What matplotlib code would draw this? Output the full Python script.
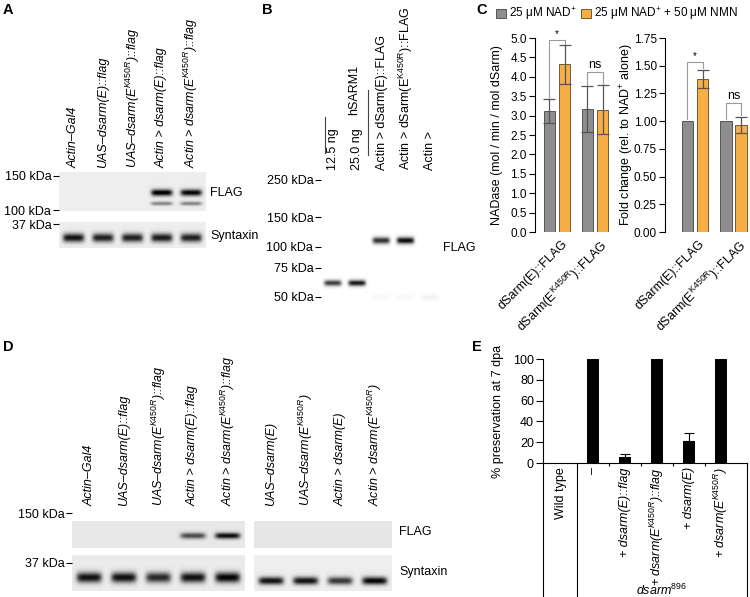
import numpy as np
import matplotlib
matplotlib.use('Agg')
import matplotlib.pyplot as plt
from matplotlib.lines import Line2D
from matplotlib.patches import Patch
from matplotlib.ticker import NullLocator, NullFormatter
from matplotlib.transforms import ScaledTranslation

plt.rcParams['font.family'] = ['Liberation Sans', 'DejaVu Sans']
plt.rcParams['font.size'] = 9
plt.rcParams['mathtext.fontset'] = 'custom'
plt.rcParams['mathtext.rm'] = 'Liberation Sans'
plt.rcParams['mathtext.it'] = 'Liberation Sans:italic'
plt.rcParams['mathtext.bf'] = 'Liberation Sans:bold'
plt.rcParams['axes.linewidth'] = 0.8

W, H = 750, 597

# ---------------- data ----------------
# A: western blot, band strength per lane
a_lanes = ['Actin–Gal4', 'UAS–dsarm(E)::flag', r'UAS–dsarm(E$^{\mathit{K450R}}$)::flag',
           'Actin > dsarm(E)::flag', r'Actin > dsarm(E$^{\mathit{K450R}}$)::flag']
a_flag = [0, 0, 0, 0.95, 0.9]          # ~124 kDa
a_flag_low = [0, 0, 0, 0.4, 0.4]       # ~110 kDa
a_syntaxin = [0.85, 0.8, 0.8, 0.82, 0.8]

# B
b_lanes = ['12.5 ng', '25.0 ng', 'Actin > dSarm(E)::FLAG',
           r'Actin > dSarm(E$^{\mathrm{K450R}}$)::FLAG', 'Actin >']
b_hsarm = [0.75, 0.9, 0, 0, 0]          # ~61 kDa
b_dsarm = [0, 0, 0.8, 0.95, 0]          # ~110 kDa
b_faint = [0, 0, 0.025, 0.025, 0.05]    # ~50 kDa
b_markers = [250, 150, 100, 75, 50]

# C
c_groups = ['dSarm(E)::FLAG', r'dSarm(E$^{\mathrm{K450R}}$)::FLAG']
c_nad = [3.12, 3.18]
c_nad_err = [0.30, 0.59]
c_nmn = [4.32, 3.15]
c_nmn_err = [0.50, 0.63]
c_fold_nad = [1.0, 1.0]
c_fold_nmn = [1.38, 0.965]
c_fold_nmn_err = [0.08, 0.073]
c_sig = ['*', 'ns']

# D
d_lanes_left = ['Actin–Gal4', 'UAS–dsarm(E)::flag', r'UAS–dsarm(E$^{\mathit{K450R}}$)::flag',
                'Actin > dsarm(E)::flag', r'Actin > dsarm(E$^{\mathit{K450R}}$)::flag']
d_lanes_right = ['UAS–dsarm(E)', r'UAS–dsarm(E$^{\mathit{K450R}}$)',
                 'Actin > dsarm(E)', r'Actin > dsarm(E$^{\mathit{K450R}}$)']
d_flag_left = [0, 0, 0, 0.6, 0.85]
d_flag_right = [0, 0, 0, 0]
d_syn_left = [0.85, 0.85, 0.75, 0.85, 0.9]
d_syn_right = [0.85, 0.85, 0.7, 0.9]

# E
e_cats = ['Wild type', '–', '+ dsarm(E)::flag', r'+ dsarm(E$^{\mathit{K450R}}$)::flag',
          '+ dsarm(E)', r'+ dsarm(E$^{\mathit{K450R}}$)']
e_vals = [0, 100, 5.5, 100, 21, 100]
e_err = [0, 0, 3, 0, 7.5, 0]

grey = '#8e8e8e'
orange = '#f6ae45'

fig = plt.figure(figsize=(7.5, 5.97), dpi=100)


def px_axes(x0, y0, x1, y1):
    return fig.add_axes([x0 / W, 1 - y1 / H, (x1 - x0) / W, (y1 - y0) / H])


def ftext(x, y, s, **kw):
    fig.text(x / W, 1 - y / H, s, **kw)


def fline(xs, ys, **kw):
    fig.add_artist(Line2D([x / W for x in xs], [1 - y / H for y in ys], **kw))


def blot(ax, n, bands, ylim, bg, img=None):
    lo, hi = img if img else ylim
    x = np.linspace(-0.5, n - 0.5, 300)
    ly = np.linspace(np.log(lo), np.log(hi), 200)
    X, LY = np.meshgrid(x, ly)
    z = np.full(X.shape, bg)
    for strength, kda, sig in bands:
        for lane, s in enumerate(strength):
            if s:
                z += s * np.exp(-((X - lane) / 0.36) ** 6) * np.exp(-((LY - np.log(kda)) / sig) ** 2)
    ax.pcolormesh(x, np.exp(ly), np.clip(z, 0, 1), cmap='gray_r', vmin=0, vmax=1, shading='gouraud')
    ax.set_yscale('log')
    ax.set_ylim(*ylim)
    ax.set_xlim(-0.5, n - 0.5)
    for sp in ax.spines.values():
        sp.set_visible(False)
    ax.yaxis.set_minor_locator(NullLocator())
    ax.yaxis.set_minor_formatter(NullFormatter())
    ax.set_xticks([])
    ax.set_yticks([])
    ax.tick_params(axis='y', length=4, width=0.8, pad=1.5)


def markers(ax, kdas):
    ax.set_yticks(kdas, [f'{k} kDa' for k in kdas])
    ax.yaxis.set_minor_locator(NullLocator())


def lane_labels(ax, labels, italic, pad):
    ax.set_xticks(range(len(labels)))
    ax.set_xticklabels(labels, rotation=90, style='italic' if italic else 'normal')
    ax.tick_params(axis='x', top=True, bottom=False, labeltop=True, labelbottom=False,
                   length=0, pad=pad)


# ---------------- A ----------------
ax = px_axes(59, 172, 206, 211)
blot(ax, 5, [(a_flag, 124, 0.038), (a_flag_low, 109, 0.022)], (98.9, 157), 0.07)
markers(ax, [150, 100])
lane_labels(ax, a_lanes, True, 3)
ax = px_axes(59, 222, 206, 248)
blot(ax, 5, [(a_syntaxin, 31.7, 0.05)], (27.8, 37.9), 0.07)
markers(ax, [37])
ftext(210, 193, 'FLAG', va='center')
ftext(210, 236, 'Syntaxin', va='center')

# ---------------- B ----------------
ax = px_axes(321, 172, 442, 310)
blot(ax, 5, [(b_hsarm, 61, 0.04), (b_dsarm, 109.5, 0.045), (b_faint, 50, 0.04)], (41.8, 279), 0.0)
markers(ax, b_markers)
lane_labels(ax, b_lanes, False, 1.5)
ftext(443, 248, 'FLAG', va='center')
ftext(354, 115, 'hSARM1', rotation=90, ha='center', va='bottom')
fline([325, 325], [117, 153], color='#444444', lw=0.8)
fline([368, 368], [90, 155], color='#444444', lw=0.8)

# ---------------- C ----------------
bw, off = 0.3, 0.2
xg = np.arange(len(c_groups))
err_kw = dict(ecolor='#555555', elinewidth=0.9, capsize=4, capthick=0.9)


def style_c(ax):
    for s in ['top', 'right', 'bottom']:
        ax.spines[s].set_visible(False)
    ax.tick_params(axis='y', length=4.3, width=0.8, pad=1.5, labelsize=8.5)
    ax.tick_params(axis='x', length=0, pad=4)
    ax.set_xticks(xg)
    ax.set_xticklabels(c_groups, rotation=45, ha='right', rotation_mode='anchor')
    for lbl in ax.get_xticklabels():
        lbl.set_transform(lbl.get_transform() + ScaledTranslation(4 / 100, 0, fig.dpi_scale_trans))


def brackets(ax, tops, left_ends, right_ends, pad, txt_pad):
    for i, s in enumerate(c_sig):
        xl, xr = xg[i] - off, xg[i] + off
        ax.plot([xl, xl, xr, xr], [left_ends[i] + pad, tops[i], tops[i], right_ends[i] + pad],
                color='#9a9a9a', lw=0.8, clip_on=False)
        ax.text(xg[i], tops[i] + txt_pad, s, ha='center', va='bottom',
                fontsize=7 if s == '*' else 9)


ax = px_axes(535, 38, 616, 232)
ax.bar(xg - off, c_nad, bw, color=grey, edgecolor='#555555', lw=0.7)
ax.bar(xg + off, c_nmn, bw, color=orange, edgecolor='#6e5a3a', lw=0.7)
ax.errorbar(xg - off, c_nad, yerr=c_nad_err, fmt='none', **err_kw)
ax.errorbar(xg + off, c_nmn, yerr=c_nmn_err, fmt='none', **err_kw)
ax.set_ylim(0, 5)
ax.set_xlim(-0.58, 1.55)
ax.set_yticks(np.arange(0, 5.01, 0.5))
ax.set_yticklabels([f'{v:.1f}' for v in np.arange(0, 5.01, 0.5)])
style_c(ax)
brackets(ax, [4.95, 4.12], np.add(c_nad, c_nad_err), np.add(c_nmn, c_nmn_err), 0.03, 0.02)
ax.set_ylabel('NADase (mol / min / mol dSarm)')
ax.yaxis.set_label_coords(-0.39, 0.5)

ax = px_axes(665, 38, 750, 232)
ax.bar(xg - off, c_fold_nad, bw, color=grey, edgecolor='#555555', lw=0.7)
ax.bar(xg + off, c_fold_nmn, bw, color=orange, edgecolor='#6e5a3a', lw=0.7)
ax.errorbar(xg + off, c_fold_nmn, yerr=c_fold_nmn_err, fmt='none', **err_kw)
ax.set_ylim(0, 1.75)
ax.set_xlim(-0.78, 1.43)
ax.set_yticks(np.arange(0, 1.76, 0.25))
ax.set_yticklabels([f'{v:.2f}' for v in np.arange(0, 1.76, 0.25)])
style_c(ax)
brackets(ax, [1.53, 1.163], c_fold_nad, np.add(c_fold_nmn, c_fold_nmn_err), 0.02, 0.01)
ax.set_ylabel('Fold change (rel. to NAD$^{+}$ alone)')
ax.yaxis.set_label_coords(-0.345, 0.5)

fig.legend([Patch(facecolor=grey, edgecolor='#555555', lw=0.7),
            Patch(facecolor=orange, edgecolor='#6e5a3a', lw=0.7)],
           ['25 μM NAD$^{+}$', '25 μM NAD$^{+}$ + 50 μM NMN'],
           loc='center left', bbox_to_anchor=(496 / W, 1 - 14 / H), ncol=2, frameon=False,
           handlelength=0.85, handleheight=0.85, handletextpad=0.25, columnspacing=0.4,
           borderpad=0, borderaxespad=0, prop={'size': 8.5})

# ---------------- D ----------------
d_flag_lim, d_flag_img = (98.9, 155.5), (98.9, 134.8)
d_syn_lim = (26.5, 40.7)
ax = px_axes(72, 510, 245, 548)
blot(ax, 5, [(d_flag_left, 115.5, 0.035)], d_flag_lim, 0.09, d_flag_img)
markers(ax, [150])
lane_labels(ax, d_lanes_left, True, 3)
ax = px_axes(72, 555, 245, 591)
blot(ax, 5, [(d_syn_left, 31.4, 0.06)], d_syn_lim, 0.08)
markers(ax, [37])
ax = px_axes(254, 510, 392, 548)
blot(ax, 4, [(d_flag_right, 115.5, 0.035)], d_flag_lim, 0.1, d_flag_img)
lane_labels(ax, d_lanes_right, True, 3)
ax = px_axes(254, 555, 392, 591)
blot(ax, 4, [(d_syn_right, 30.2, 0.045)], d_syn_lim, 0.07)
ftext(399, 532, 'FLAG', va='center')
ftext(399, 572, 'Syntaxin', va='center')

# ---------------- E ----------------
ax = px_axes(543, 359, 747, 463)
xe = np.arange(len(e_cats))
ax.bar(xe, e_vals, 0.36, color='black')
ie = [i for i, e in enumerate(e_err) if e > 0]
ax.errorbar(xe[ie], np.array(e_vals)[ie], yerr=[np.zeros(len(ie)), np.array(e_err)[ie]],
            fmt='none', ecolor='black', elinewidth=0.8, capsize=3.5, capthick=0.8)
ax.set_ylim(0, 100)
ax.set_xlim(-0.56, 5.81)
ax.set_yticks(range(0, 101, 20))
ax.spines['top'].set_visible(False)
ax.spines['right'].set_visible(False)
ax.tick_params(axis='y', length=5, width=0.8, pad=1.5)
ax.set_xticks(xe)
ax.set_xticklabels(e_cats, rotation=90)
for lbl in ax.get_xticklabels()[2:]:
    lbl.set_style('italic')
ax.tick_params(axis='x', which='major', length=0, pad=3)
ax.set_xticks(xe[1:-1] + 0.5, minor=True)
ax.tick_params(axis='x', which='minor', length=2.5, width=0.8)
for xv in [ax.get_xlim()[0], 0.5, ax.get_xlim()[1]]:
    ax.plot([xv, xv], [0, -1.35], transform=ax.get_xaxis_transform(), color='black',
            lw=0.8, clip_on=False)
ax.set_ylabel('% preservation at 7 dpa')
ax.yaxis.set_label_coords(-0.189, 0.5)
ftext(662, 590, r'dsarm$^{\mathit{896}}$', ha='center', va='center', style='italic')

# panel letters
for letter, x, y in [('A', 8, 10), ('B', 267, 10), ('C', 482, 10), ('D', 8, 347), ('E', 477, 347)]:
    ftext(x, y, letter, fontsize=10.5, fontweight='bold', ha='center', va='center')

fig.savefig('out.png', dpi=100)
